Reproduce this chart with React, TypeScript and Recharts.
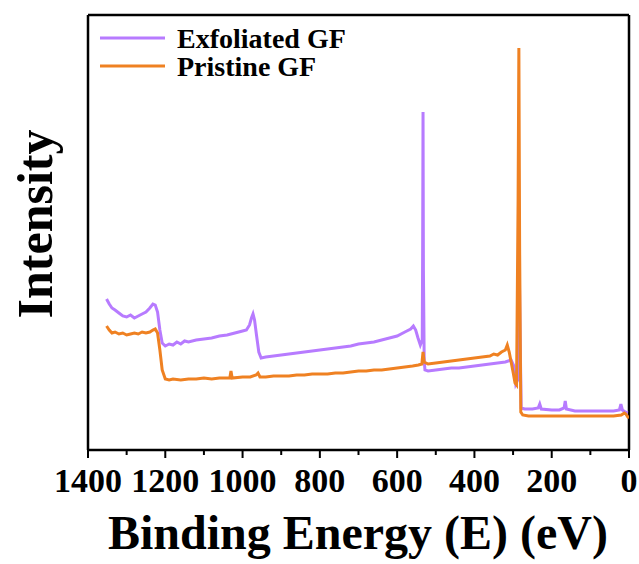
import React from 'react';
import { LineChart, Line, XAxis, YAxis, ReferenceLine, Legend } from 'recharts';

const exfoliatedEnergy = [1352, 1345, 1338, 1330, 1320, 1310, 1300, 1290, 1280, 1270, 1260, 1250, 1240, 1232, 1226, 1220, 1214, 1208, 1200, 1190, 1180, 1170, 1160, 1150, 1140, 1120, 1100, 1080, 1060, 1040, 1020, 1000, 990, 982, 977, 973, 969, 964, 958, 952, 940, 920, 900, 880, 860, 840, 820, 800, 780, 760, 740, 720, 700, 680, 660, 640, 620, 600, 580, 565, 558, 552, 546, 540, 535, 534, 533, 532, 530, 528, 520, 500, 480, 460, 440, 420, 400, 380, 360, 340, 320, 305, 298, 293, 288, 285, 282, 279, 270, 250, 235, 231, 227, 200, 180, 168, 165, 162, 140, 120, 100, 80, 60, 40, 25, 21, 17, 10, 3];
const exfoliatedIntensity = [151, 146, 142, 140, 137, 134, 133, 135, 132, 134, 136, 138, 142, 146, 145, 138, 120, 107, 104, 106, 105, 108, 106, 109, 108, 110, 111, 112, 114, 115, 117, 119, 120, 125, 132, 136, 130, 115, 98, 92, 93, 94, 95, 96, 97, 98, 99, 100, 101, 102, 103, 104, 106, 107, 108, 110, 112, 114, 118, 121, 124, 120, 112, 105, 110, 200, 338, 180, 90, 80, 79, 80, 81, 82, 82, 83, 84, 85, 86, 87, 88, 90, 84, 66, 70, 220, 120, 42, 41, 41, 42, 46, 41, 40, 40, 42, 49, 41, 39, 39, 39, 39, 39, 39, 40, 46, 40, 38, 37];

const pristineEnergy = [1352, 1345, 1338, 1330, 1320, 1310, 1300, 1290, 1280, 1270, 1260, 1250, 1240, 1232, 1226, 1220, 1214, 1208, 1200, 1190, 1180, 1160, 1140, 1120, 1100, 1080, 1060, 1040, 1033, 1030, 1027, 1000, 980, 965, 960, 955, 940, 920, 900, 880, 860, 840, 820, 800, 780, 760, 740, 720, 700, 680, 660, 640, 620, 600, 580, 560, 545, 536, 533, 530, 520, 500, 480, 460, 440, 420, 400, 380, 360, 350, 340, 330, 320, 315, 310, 305, 300, 295, 291, 287, 285, 283, 280, 275, 260, 240, 200, 160, 120, 80, 40, 20, 12, 8, 3, 0];
const pristineIntensity = [124, 120, 117, 118, 116, 117, 115, 116, 117, 116, 118, 117, 118, 120, 121, 117, 100, 80, 71, 70, 71, 70, 71, 71, 72, 71, 72, 72, 72, 79, 72, 73, 73, 75, 77, 73, 73, 74, 74, 74, 75, 75, 76, 76, 76, 77, 77, 78, 79, 79, 80, 80, 81, 82, 83, 84, 85, 86, 98, 88, 86, 87, 88, 89, 90, 91, 92, 93, 94, 96, 95, 98, 100, 105, 98, 88, 78, 67, 65, 250, 402, 200, 38, 35, 34, 34, 34, 34, 34, 34, 34, 35, 37, 36, 33, 32];

const xTicks = [0, 100, 200, 300, 400, 500, 600, 700, 800, 900, 1000, 1100, 1200, 1300, 1400];

const seriesNames = ['Exfoliated GF', 'Pristine GF'];
const seriesColors = ['#B77BFF', '#EF8122'];

const exfoliatedData = exfoliatedEnergy.map((e, i) => ({ energy: e, value: exfoliatedIntensity[i] }));
const pristineData = pristineEnergy.map((e, i) => ({ energy: e, value: pristineIntensity[i] }));

const FONT = "'Liberation Serif', 'Times New Roman', serif";

const BottomTick = (props: any) => {
  const { x, y, payload } = props;
  const v = payload.value;
  const major = v % 200 === 0;
  return (
    <g>
      <line x1={x} x2={x} y1={y} y2={y + (major ? 8 : 5)} stroke="#000" strokeWidth={2} />
      {major && (
        <text x={x} y={y + 42} textAnchor="middle" fontSize={34} fontWeight="bold" fontFamily={FONT} fill="#000">
          {v}
        </text>
      )}
    </g>
  );
};

const LegendContent = () => (
  <svg width={420} height={90} style={{ display: 'block' }}>
    {seriesNames.map((n, i) => (
      <g key={n}>
        <line x1={100} x2={165} y1={38 + i * 28} y2={38 + i * 28} stroke={seriesColors[i]} strokeWidth={3} />
        <text x={177} y={48 + i * 28} fontSize={28} fontWeight="bold" fontFamily={FONT} fill="#000">
          {n}
        </text>
      </g>
    ))}
  </svg>
);

const YLabel = () => (
  <text
    x={52}
    y={224}
    transform="rotate(-90 52 224)"
    textAnchor="middle"
    fontSize={50}
    fontWeight="bold"
    fontFamily={FONT}
    fill="#000"
  >
    Intensity
  </text>
);

const XLabel = () => (
  <text x={358} y={549} textAnchor="middle" fontSize={48} fontWeight="bold" fontFamily={FONT} fill="#000">
    Binding Energy (E) (eV)
  </text>
);

export default function App() {
  return (
    <div style={{ position: 'absolute', left: 0, top: 0, width: 639, height: 564, background: '#fff' }}>
      <LineChart width={639} height={564} margin={{ top: 15, right: 10, bottom: 0, left: 0 }}>
        <XAxis
          dataKey="energy"
          type="number"
          domain={[0, 1400]}
          reversed
          ticks={xTicks}
          interval={0}
          tick={<BottomTick />}
          tickLine={false}
          tickSize={0}
          tickMargin={0}
          height={114}
          axisLine={{ stroke: '#000', strokeWidth: 2.5 }}
          allowDataOverflow
          label={<XLabel />}
        />
        <YAxis
          type="number"
          domain={[0, 435]}
          tick={false}
          tickLine={false}
          width={88}
          axisLine={{ stroke: '#000', strokeWidth: 2.5 }}
          allowDataOverflow
          label={<YLabel />}
        />
        <ReferenceLine y={435} stroke="#000" strokeWidth={2.5} />
        <ReferenceLine x={0} stroke="#000" strokeWidth={2.5} />
        <Legend
          layout="vertical"
          align="center"
          verticalAlign="middle"
          content={<LegendContent />}
          wrapperStyle={{ left: 0, top: 0, width: 420, height: 90 }}
        />
        <Line
          data={exfoliatedData}
          dataKey="value"
          stroke={seriesColors[0]}
          strokeWidth={3}
          dot={false}
          isAnimationActive={false}
          name={seriesNames[0]}
        />
        <Line
          data={pristineData}
          dataKey="value"
          stroke={seriesColors[1]}
          strokeWidth={3}
          dot={false}
          isAnimationActive={false}
          name={seriesNames[1]}
        />
      </LineChart>
    </div>
  );
}
